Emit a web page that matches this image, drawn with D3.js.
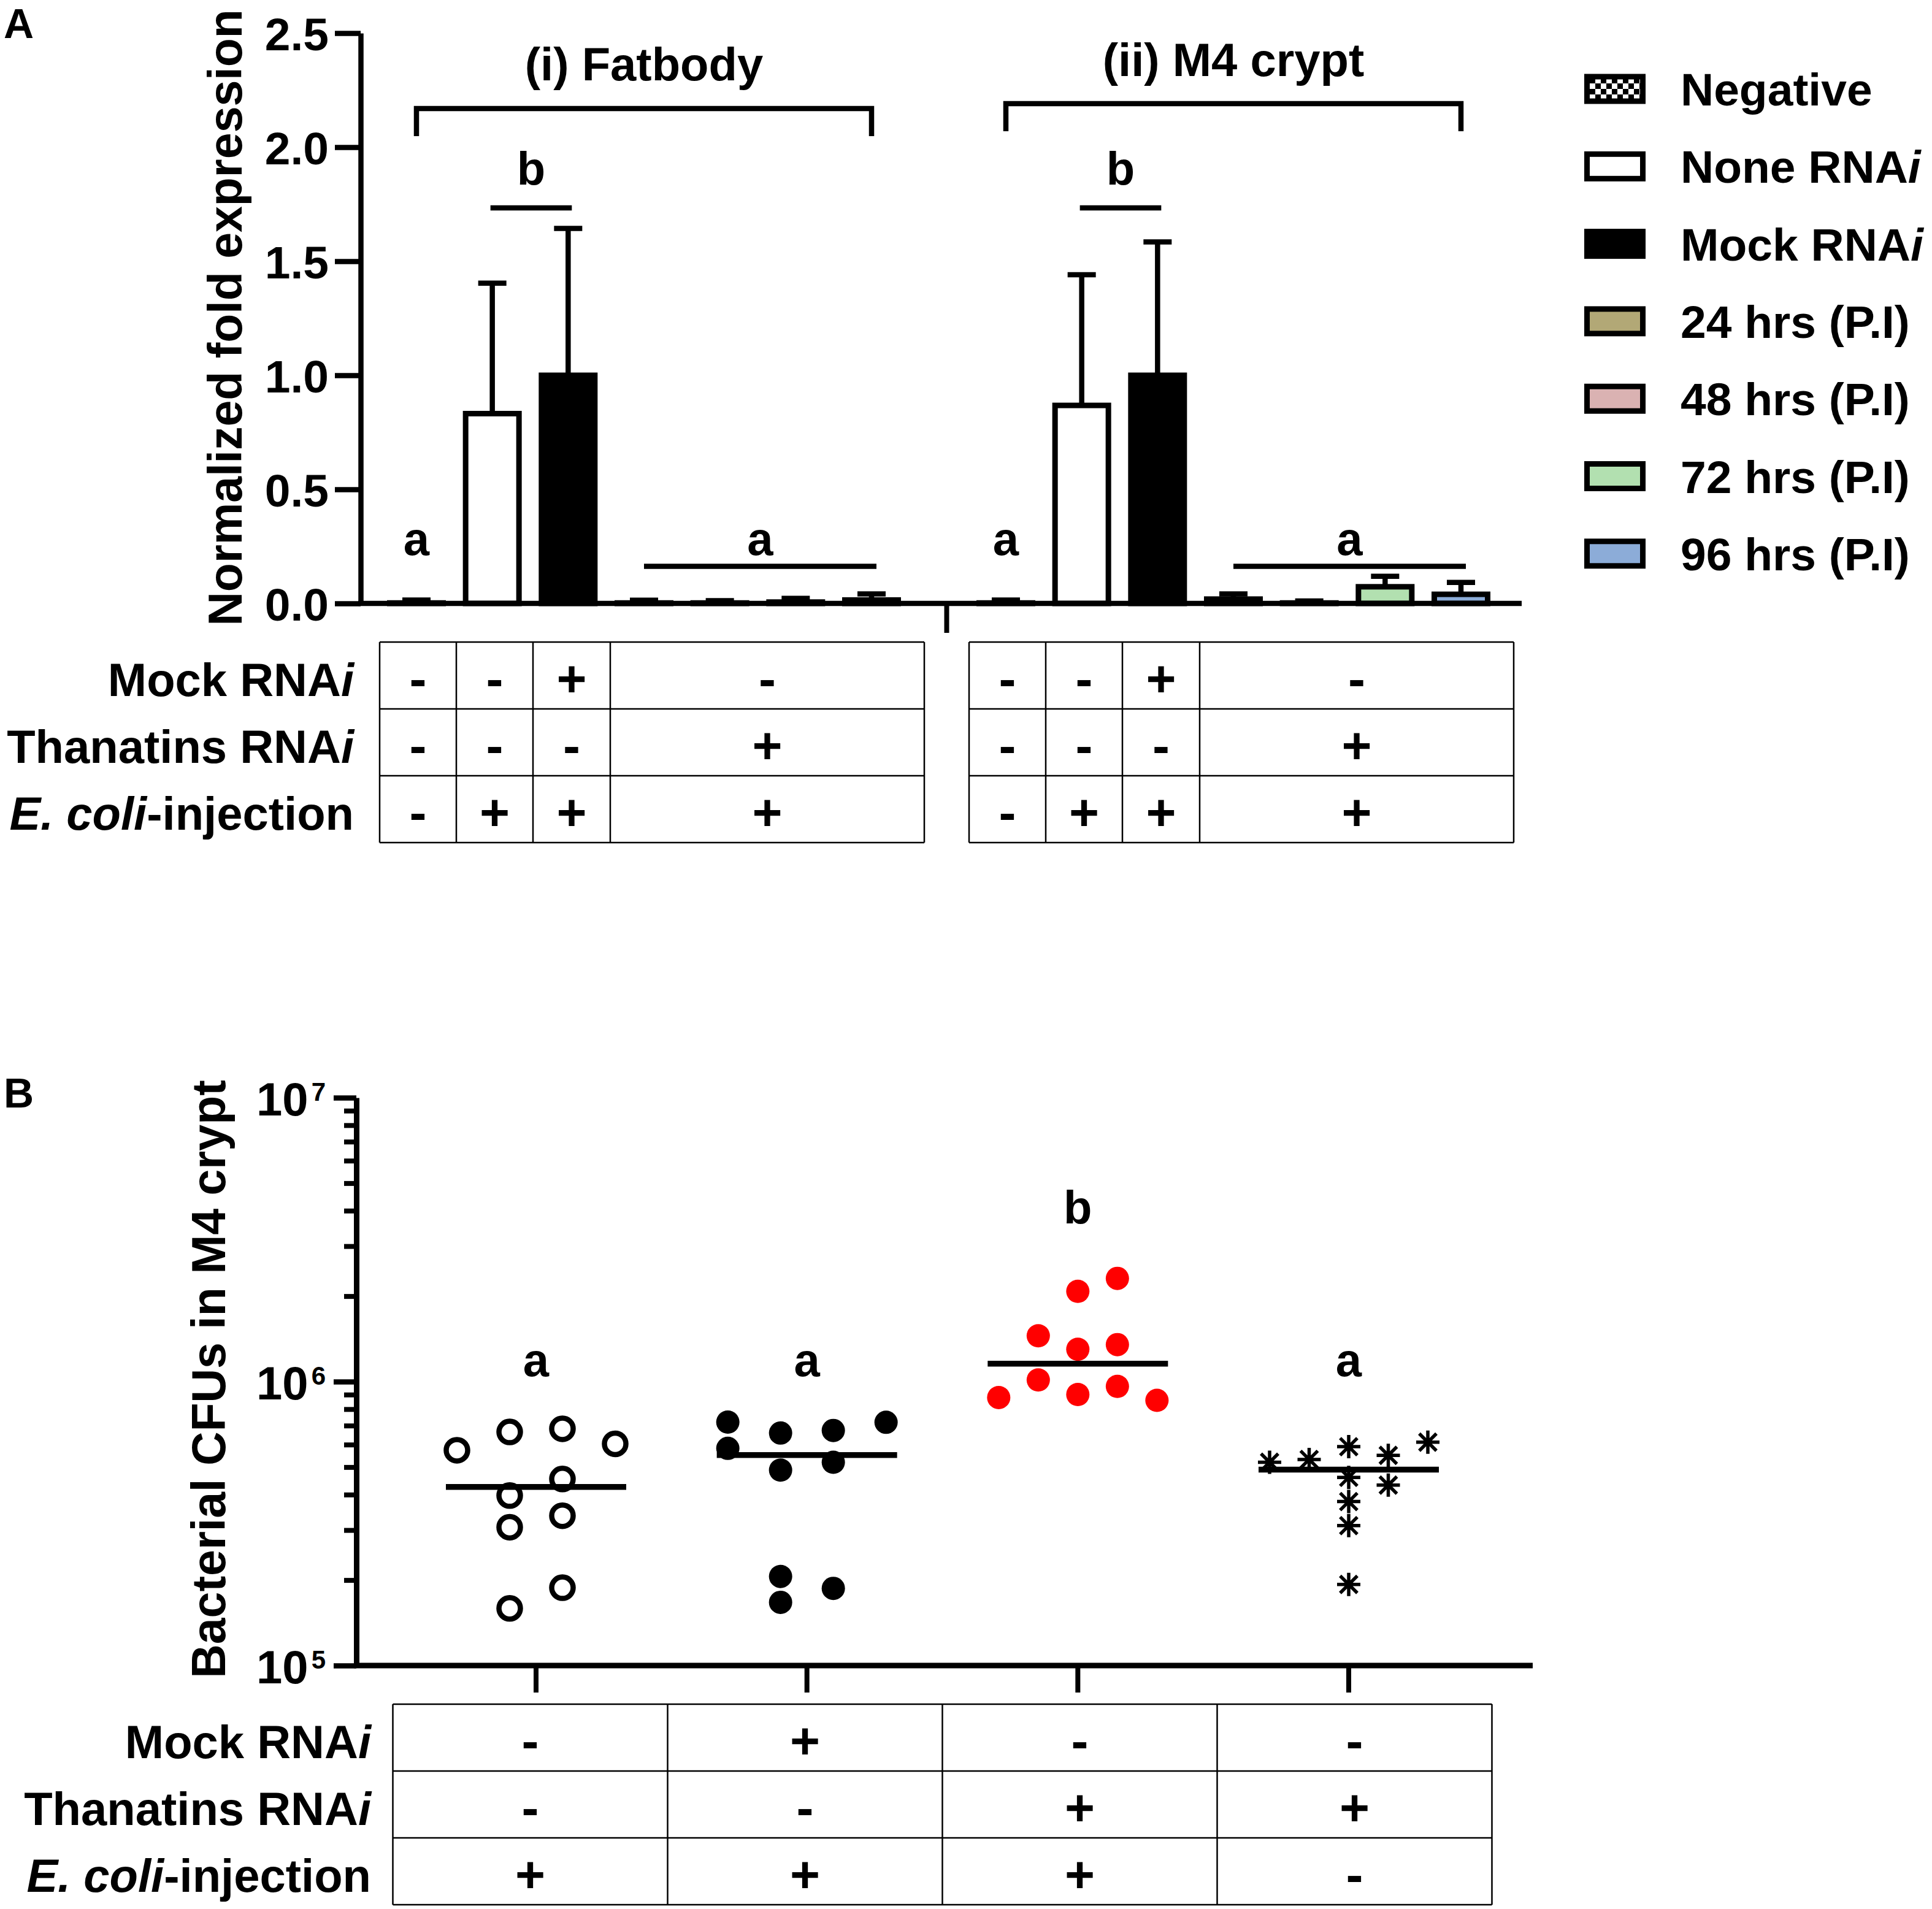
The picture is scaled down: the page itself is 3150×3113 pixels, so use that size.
<!DOCTYPE html>
<html>
<head>
<meta charset="utf-8">
<script src="https://cdn.jsdelivr.net/npm/d3@7"></script>
<style>
  body { margin: 0; background: #fff; }
  text { font-family: "Liberation Sans", Arial, Helvetica, sans-serif; font-weight: bold; fill: #000; }
</style>
</head>
<body>
<script>

// ---- panel A data : normalized fold expression (mean, SD) ----
var series = ["Negative", "None RNAi", "Mock RNAi", "24 hrs (P.I)", "48 hrs (P.I)", "72 hrs (P.I)", "96 hrs (P.I)"];
var seriesColors = ["url(#checker)", "#ffffff", "#000000", "#b2a876", "#dab2b2", "#b2e0b0", "#8cacd8"];
var fatbodyMean = [0.002, 0.832, 1.0, 0.002, 0.002, 0.006, 0.015];
var fatbodySD   = [0.013, 0.572, 0.644, 0.012, 0.010, 0.016, 0.027];
var cryptMean   = [0.002, 0.868, 1.0, 0.019, 0.002, 0.073, 0.040];
var cryptSD     = [0.013, 0.573, 0.585, 0.023, 0.009, 0.046, 0.052];
var yTicksA = [0, 0.5, 1.0, 1.5, 2.0, 2.5];
var lettersA = ["a", "b", "a"];

// condition tables
var tableRows = ["Mock RNAi", "Thanatins RNAi", "E. coli-injection"];
var tableA = [["-", "-", "+", "-"], ["-", "-", "-", "+"], ["-", "+", "+", "+"]];
var tableB = [["-", "+", "-", "-"], ["-", "-", "+", "+"], ["+", "+", "+", "-"]];

// ---- panel B data : bacterial CFUs in M4 crypt ----
var groupsB = ["none", "mock", "thanatins", "uninjected"];
var cfuNone       = [5.73e5, 6.65e5, 6.82e5, 6.04e5, 3.97e5, 4.54e5, 3.07e5, 3.37e5, 1.59e5, 1.88e5];
var cfuMock       = [7.20e5, 6.59e5, 6.73e5, 7.19e5, 5.82e5, 4.88e5, 5.20e5, 2.06e5, 1.87e5, 1.67e5];
var cfuThanatins  = [2.08e6, 2.31e6, 1.45e6, 1.30e6, 1.35e6, 8.79e5, 1.014e6, 9.01e5, 9.62e5, 8.59e5];
var cfuUninjected = [5.20e5, 5.32e5, 5.90e5, 5.50e5, 6.12e5, 4.60e5, 4.32e5, 3.78e5, 3.11e5, 1.93e5];
var lettersB = ["a", "a", "b", "a"];
var majorTicksB = [1e5, 1e6, 1e7];


var svg = d3.select("body").append("svg")
    .attr("width", 3150)
    .attr("height", 3113)
    .style("display", "block");

svg.append("rect").attr("width", 3150).attr("height", 3113).attr("fill", "#fff");

var pat = svg.append("defs").append("pattern")
    .attr("id", "checker")
    .attr("patternUnits", "userSpaceOnUse")
    .attr("width", 18).attr("height", 18);
pat.append("rect").attr("width", 18).attr("height", 18).attr("fill", "#fff");
pat.append("rect").attr("width", 9).attr("height", 9).attr("fill", "#000");
pat.append("rect").attr("x", 9).attr("y", 9).attr("width", 9).attr("height", 9).attr("fill", "#000");

// label with italic "i" of RNAi / italic E. coli
function richText(sel, label) {
  if (label.indexOf("E. coli") === 0) {
    sel.append("tspan").style("font-style", "italic").text("E. coli");
    sel.append("tspan").text(label.slice(7));
  } else if (/RNAi$/.test(label)) {
    sel.append("tspan").text(label.slice(0, -1));
    sel.append("tspan").style("font-style", "italic").text("i");
  } else {
    sel.text(label);
  }
}

function hline(x1, x2, y, w) {
  svg.append("line").attr("x1", x1).attr("x2", x2).attr("y1", y).attr("y2", y)
    .attr("stroke", "#000").attr("stroke-width", w);
}
function vline(x, y1, y2, w) {
  svg.append("line").attr("x1", x).attr("x2", x).attr("y1", y1).attr("y2", y2)
    .attr("stroke", "#000").attr("stroke-width", w);
}

function drawTable(table, bounds, rowsY, labelX, fs) {
  rowsY.forEach(function(y) { hline(bounds[0], bounds[bounds.length - 1], y, 2.5); });
  bounds.forEach(function(x) { vline(x, rowsY[0], rowsY[rowsY.length - 1], 2.5); });
  table.forEach(function(row, r) {
    var cy = (rowsY[r] + rowsY[r + 1]) / 2;
    row.forEach(function(s, c) {
      svg.append("text")
        .attr("x", (bounds[c] + bounds[c + 1]) / 2)
        .attr("y", cy + 34)
        .attr("text-anchor", "middle")
        .style("font-size", fs + "px")
        .text(s);
    });
    if (labelX != null) {
      var t = svg.append("text")
        .attr("x", labelX).attr("y", cy + 33)
        .attr("text-anchor", "end")
        .style("font-size", "76px");
      richText(t, tableRows[r]);
    }
  });
}

// panel labels
svg.append("text").attr("x", 6).attr("y", 62).style("font-size", "68px").text("A");
svg.append("text").attr("x", 6).attr("y", 1806).style("font-size", "68px").text("B");

// ================= PANEL A =================
var yA = d3.scaleLinear().domain([0, 2.5]).range([984, 54]);
var xA = d3.scalePoint().domain(series).range([0, 742]);
var barW = 87;

var axisA = svg.append("g")
    .attr("transform", "translate(588,0)")
    .call(d3.axisLeft(yA).tickValues(yTicksA).tickFormat(d3.format(".1f"))
      .tickSize(42).tickSizeOuter(0).tickPadding(10));
axisA.attr("font-size", null).attr("font-family", null);
axisA.select(".domain").attr("stroke-width", 8.5);
axisA.selectAll(".tick line").attr("stroke-width", 8.5);
axisA.selectAll(".tick text").style("font-size", "75px").attr("dy", "0.36em");

svg.append("text")
  .attr("transform", "translate(394,518) rotate(-90)")
  .attr("text-anchor", "middle")
  .style("font-size", "77px")
  .text("Normalized fold expression");

var tissues = [
  { title: "(i) Fatbody", x0: 679, mean: fatbodyMean, sd: fatbodySD, titleY: 131, brY: 177 },
  { title: "(ii) M4 crypt", x0: 1640, mean: cryptMean, sd: cryptSD, titleY: 124, brY: 169 }
];

var rowsA = [1047, 1156, 1265, 1374];
var tableEdges = [];

tissues.forEach(function(t) {
  var cx = function(s) { return t.x0 + xA(s); };
  var g = svg.append("g");

  // bars
  g.selectAll("rect.bar").data(series).enter().append("rect")
    .attr("class", "bar")
    .attr("x", function(s) { return cx(s) - barW / 2; })
    .attr("width", barW)
    .attr("y", function(s, i) { return yA(t.mean[i]); })
    .attr("height", function(s, i) { return yA(0) - yA(t.mean[i]); })
    .attr("fill", function(s, i) { return seriesColors[i]; })
    .attr("stroke", "#000")
    .attr("stroke-width", 9);

  // error bars (upper only)
  g.selectAll("line.err").data(series).enter().append("line")
    .attr("class", "err")
    .attr("x1", cx).attr("x2", cx)
    .attr("y1", function(s, i) { return yA(t.mean[i]); })
    .attr("y2", function(s, i) { return yA(t.mean[i] + t.sd[i]); })
    .attr("stroke", "#000").attr("stroke-width", 8.5);
  g.selectAll("line.cap").data(series).enter().append("line")
    .attr("class", "cap")
    .attr("x1", function(s) { return cx(s) - 23; })
    .attr("x2", function(s) { return cx(s) + 23; })
    .attr("y1", function(s, i) { return yA(t.mean[i] + t.sd[i]); })
    .attr("y2", function(s, i) { return yA(t.mean[i] + t.sd[i]); })
    .attr("stroke", "#000").attr("stroke-width", 8.5);

  // title bracket
  var xl = cx(series[0]), xr = cx(series[6]);
  svg.append("path")
    .attr("d", "M" + xl + "," + (t.brY + 45) + "V" + t.brY + "H" + xr + "V" + (t.brY + 45))
    .attr("fill", "none").attr("stroke", "#000").attr("stroke-width", 8.5);
  svg.append("text")
    .attr("x", (xl + xr) / 2).attr("y", t.titleY)
    .attr("text-anchor", "middle")
    .style("font-size", "76px")
    .text(t.title);

  // significance letters
  svg.append("text").attr("x", cx(series[0])).attr("y", 905)
    .attr("text-anchor", "middle").style("font-size", "76px").text(lettersA[0]);
  var bx1 = cx(series[1]) - 3, bx2 = cx(series[2]) + 6;
  hline(bx1, bx2, 339, 8.5);
  svg.append("text").attr("x", (bx1 + bx2) / 2).attr("y", 301)
    .attr("text-anchor", "middle").style("font-size", "76px").text(lettersA[1]);
  var ax1 = cx(series[3]), ax2 = cx(series[6]) + 8;
  hline(ax1, ax2, 923.5, 8.5);
  svg.append("text").attr("x", (ax1 + ax2) / 2).attr("y", 905)
    .attr("text-anchor", "middle").style("font-size", "76px").text(lettersA[2]);

  // condition table below
  var left = t.x0 - 60;
  tableEdges.push([left, left + 888]);
  drawTable(tableA, [left, left + 125, left + 250, left + 376, left + 888], rowsA,
    t.x0 === 679 ? 577 : null, 84);
});

// x axis of panel A with the break tick between the two tissues
hline(584, 2481, 984, 8.5);
vline((tableEdges[0][1] + tableEdges[1][0]) / 2, 984, 1032, 8);

// legend
var legend = svg.append("g").selectAll("g").data(series).enter().append("g")
    .attr("transform", function(s, i) { return "translate(0," + (145 + i * 126.3) + ")"; });
legend.append("rect")
  .attr("x", 2587.5).attr("y", -20).attr("width", 91).attr("height", 40)
  .attr("fill", function(s, i) { return seriesColors[i]; })
  .attr("stroke", "#000").attr("stroke-width", 9);
legend.append("text")
  .attr("x", 2740).attr("y", 27)
  .style("font-size", "75px")
  .each(function(s) { richText(d3.select(this), s); });

// ================= PANEL B =================
var yB = d3.scaleLog().domain([1e5, 1e7]).range([2716, 1790]);
var xB = d3.scalePoint().domain(groupsB).range([874, 2199]);
var axisXB = 581;

var minorTicks = [];
[1e5, 1e6].forEach(function(dec) {
  for (var k = 2; k <= 9; k++) minorTicks.push(k * dec);
});

var minorAxis = svg.append("g")
    .attr("transform", "translate(" + axisXB + ",0)")
    .call(d3.axisLeft(yB).tickValues(minorTicks).tickFormat("").tickSize(20).tickSizeOuter(0));
minorAxis.select(".domain").remove();
minorAxis.selectAll(".tick line").attr("stroke-width", 8);

var majorAxis = svg.append("g")
    .attr("transform", "translate(" + axisXB + ",0)")
    .call(d3.axisLeft(yB).tickValues(majorTicksB).tickFormat("").tickSize(37).tickSizeOuter(0).tickPadding(13));
majorAxis.attr("font-size", null).attr("font-family", null);
majorAxis.select(".domain").attr("stroke-width", 9);
majorAxis.selectAll(".tick line").attr("stroke-width", 8.5);
majorAxis.selectAll(".tick text")
  .attr("dy", "0.38em")
  .style("font-size", "76px")
  .each(function(d) {
    var el = d3.select(this);
    el.append("tspan").text("10");
    el.append("tspan").attr("dx", 5).attr("dy", -24).style("font-size", "42px")
      .text(Math.round(Math.log10(d)));
  });

svg.append("text")
  .attr("transform", "translate(367,2249) rotate(-90)")
  .attr("text-anchor", "middle")
  .style("font-size", "77px")
  .text("Bacterial CFUs in M4 crypt");

hline(axisXB - 4, 2499, 2716, 9);
svg.append("g").selectAll("line").data(groupsB).enter().append("line")
  .attr("x1", xB).attr("x2", xB)
  .attr("y1", 2716).attr("y2", 2760)
  .attr("stroke", "#000").attr("stroke-width", 8);

// column scatter: points close in y share a row, rows are spread on a common grid
function columnLayout(values, cx) {
  var pts = values.map(function(v, i) { return { v: v, i: i, y: yB(v) }; });
  var rows = [];
  pts.slice().sort(function(a, b) { return a.y - b.y; }).forEach(function(p) {
    var r = rows[rows.length - 1];
    if (r && p.y - r[0].y < 37.5) r.push(p); else rows.push([p]);
  });
  var maxN = d3.max(rows, function(r) { return r.length; });
  var step = maxN > 1 ? 258 / (maxN - 1) : 0;
  rows.forEach(function(r) {
    r.sort(function(a, b) { return a.i - b.i; });
    var s = (maxN - r.length) / 2;
    s = (maxN % 2) ? Math.ceil(s) : Math.floor(s);
    r.forEach(function(p, k) { p.x = cx + (s + k - (maxN - 1) / 2) * step; });
  });
  return pts;
}

var groupsData = [
  { key: "none", values: cfuNone, mark: "open" },
  { key: "mock", values: cfuMock, mark: "dot", color: "#000" },
  { key: "thanatins", values: cfuThanatins, mark: "dot", color: "#ff0000" },
  { key: "uninjected", values: cfuUninjected, mark: "star" }
];

groupsData.forEach(function(gd, gi) {
  var cx = xB(gd.key);
  var pts = columnLayout(gd.values, cx);
  var g = svg.append("g");

  if (gd.mark === "open") {
    g.selectAll("circle").data(pts).enter().append("circle")
      .attr("cx", function(p) { return p.x; })
      .attr("cy", function(p) { return p.y; })
      .attr("r", 17.5)
      .attr("fill", "#fff").attr("stroke", "#000").attr("stroke-width", 8.5);
  } else if (gd.mark === "dot") {
    g.selectAll("circle").data(pts).enter().append("circle")
      .attr("cx", function(p) { return p.x; })
      .attr("cy", function(p) { return p.y; })
      .attr("r", 19)
      .attr("fill", gd.color);
  } else {
    var star = g.selectAll("g").data(pts).enter().append("g")
      .attr("transform", function(p) { return "translate(" + p.x + "," + p.y + ")"; });
    star.append("path")
      .attr("d", "M0,-19V19M-19,0H19M-14,-14L14,14M-14,14L14,-14")
      .attr("stroke", "#000").attr("stroke-width", 5.5).attr("fill", "none");
  }

  var med = yB(d3.median(gd.values));
  hline(cx - 147, cx + 147, med, 9.5);

  svg.append("text")
    .attr("x", cx).attr("y", gd.key === "thanatins" ? 1995 : 2244)
    .attr("text-anchor", "middle")
    .style("font-size", "76px")
    .text(lettersB[gi]);
});

// table under panel B
var midB = (xB(groupsB[0]) + xB(groupsB[3])) / 2;
var boundsB = d3.range(5).map(function(k) { return midB - 896 + k * 448; });
drawTable(tableB, boundsB, [2779, 2888, 2997, 3106], 605, 84);

</script>
</body>
</html>
